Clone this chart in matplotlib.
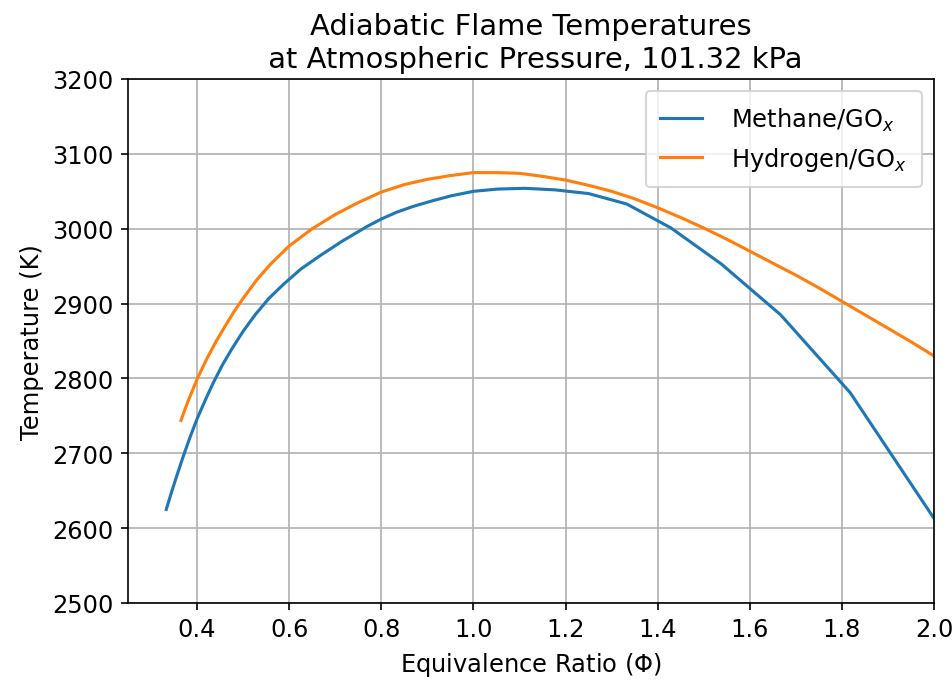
import matplotlib
matplotlib.use('Agg')
import matplotlib.pyplot as plt

# equivalence ratio and adiabatic flame temperature (K)
phi_methane = [0.333, 0.345, 0.357, 0.370, 0.385, 0.400, 0.417, 0.435, 0.455,
               0.476, 0.500, 0.526, 0.556, 0.588, 0.625, 0.667, 0.714, 0.769,
               0.800, 0.833, 0.870, 0.909, 0.952, 1.000, 1.053, 1.111, 1.176,
               1.250, 1.333, 1.429, 1.538, 1.667, 1.818, 2.000]
T_methane = [2625, 2649, 2672, 2696, 2722, 2746, 2770, 2794, 2818,
             2840, 2863, 2885, 2907, 2926, 2946, 2964, 2983, 3003,
             3013, 3022, 3030, 3037, 3044, 3050, 3053, 3054, 3052,
             3047, 3033, 3001, 2953, 2885, 2781, 2613]

phi_hydrogen = [0.365, 0.38, 0.40, 0.42, 0.44, 0.46, 0.48, 0.50, 0.53, 0.56,
                0.60, 0.65, 0.70, 0.75, 0.80, 0.85, 0.90, 0.95, 1.00, 1.05,
                1.10, 1.15, 1.20, 1.25, 1.30, 1.35, 1.40, 1.45, 1.50, 1.55,
                1.60, 1.65, 1.70, 1.75, 1.80, 1.85, 1.90, 1.95, 2.00]
T_hydrogen = [2744, 2769, 2799, 2825, 2848, 2869, 2889, 2907, 2932, 2953,
              2977, 3000, 3019, 3035, 3049, 3059, 3066, 3071, 3075, 3075,
              3074, 3070, 3065, 3058, 3050, 3040, 3028, 3015, 3001, 2986,
              2970, 2954, 2938, 2921, 2903, 2885, 2867, 2849, 2830]

plt.rcParams['font.size'] = 11.7

fig = plt.figure(figsize=(6.4, 4.625), dpi=148.75)
ax = fig.add_axes([128 / 952, 1 - 604 / 688, (934 - 128) / 952, (604 - 80) / 688])

ax.plot(phi_methane, T_methane, label='Methane/GO$_x$')
ax.plot(phi_hydrogen, T_hydrogen, label='Hydrogen/GO$_x$')

ax.set_xlim(0.25, 2.0)
ax.set_ylim(2500, 3200)
ax.grid(True)
ax.legend(loc='upper right', handlelength=1.75, handletextpad=1.2, borderpad=0.6)
ax.set_xlabel('Equivalence Ratio ($\\Phi$)')
ax.set_ylabel('Temperature (K)')
ax.set_title('Adiabatic Flame Temperatures\n at Atmospheric Pressure, 101.32 kPa')

fig.savefig('out.png', dpi=148.75)
